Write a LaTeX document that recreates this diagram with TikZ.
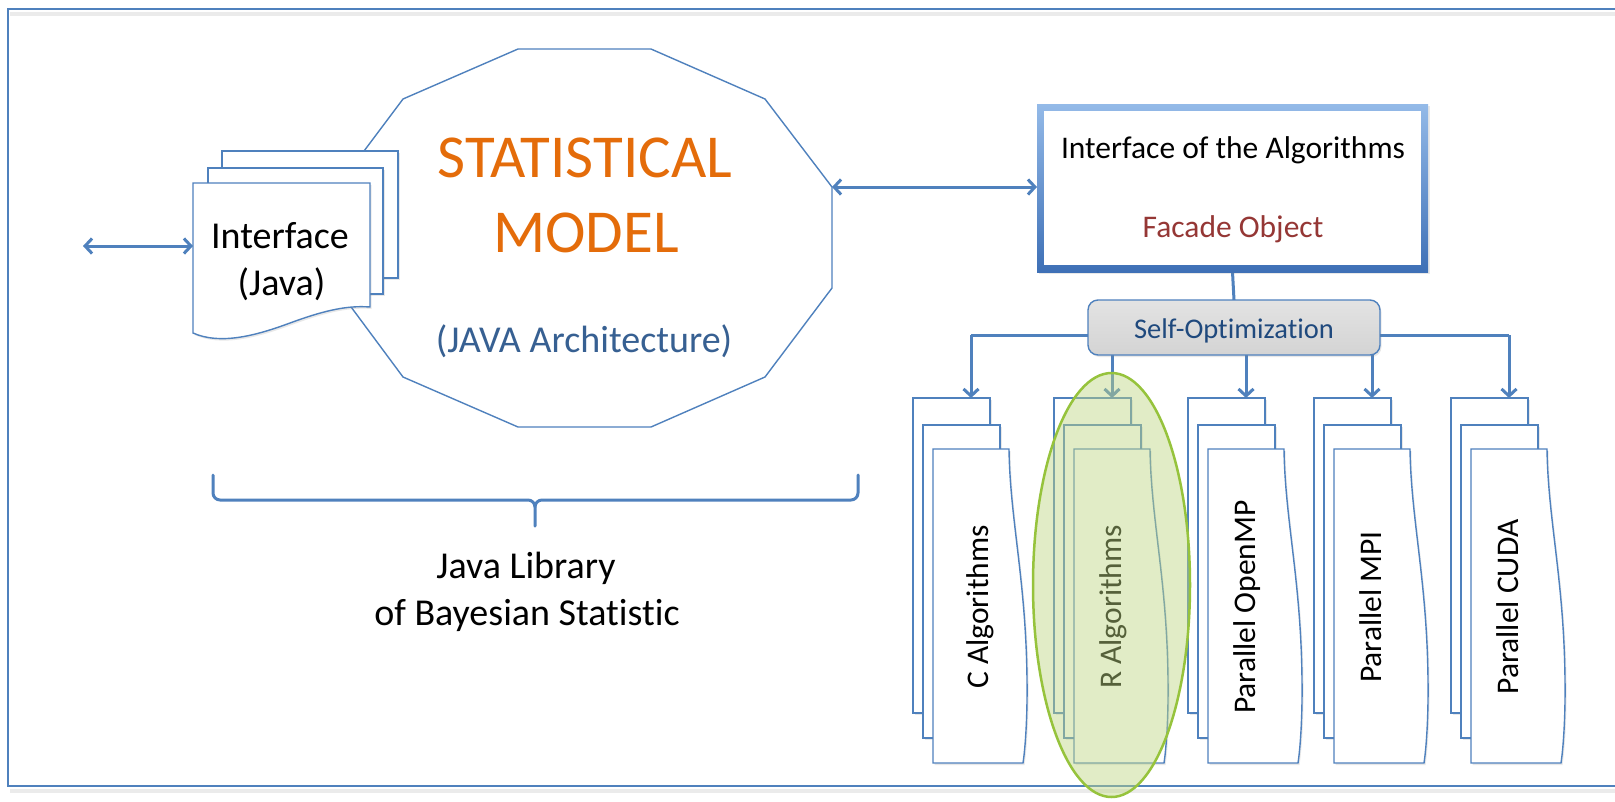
\documentclass[tikz,border=0pt]{standalone}
\usepackage{fontspec}
\setmainfont{Carlito}[Ligatures=NoCommon]
\usetikzlibrary{arrows.meta,shapes.geometric,shadows}
\definecolor{lblue}{RGB}{79,129,189}
\definecolor{orng}{RGB}{228,108,10}
\definecolor{jblue}{RGB}{55,96,146}
\definecolor{fred}{RGB}{149,55,53}
\definecolor{sblue}{RGB}{31,73,125}
\definecolor{gfill}{RGB}{190,215,130}
\definecolor{gline}{RGB}{150,195,60}
\definecolor{bxtop}{RGB}{148,186,232}
\definecolor{bxbot}{RGB}{62,112,182}
\pgfdeclarelayer{bg}
\pgfdeclarelayer{conns}
\pgfsetlayers{bg,conns,main}
\begin{document}
\begin{tikzpicture}[x=1pt,y=-1pt,
  conn/.style={draw=lblue,line width=3pt},
  biarrow/.style={conn,{Straight Barb[length=7pt,width=15pt]}-{Straight Barb[length=7pt,width=15pt]}},
  downarrow/.style={conn,-{Straight Barb[length=7pt,width=15pt]}},
  thinline/.style={draw=lblue,line width=1.4pt},
  shd/.style={drop shadow={shadow xshift=1.5pt,shadow yshift=-2pt,opacity=0.18}},
  doc/.style={thinline,fill=white,shd,inner sep=0pt,outer sep=0pt},
  hidden/.style={inner sep=0pt,outer sep=0pt},
  big/.style={font=\fontsize{61}{73}\selectfont,text=orng,anchor=base},
  mid/.style={font=\fontsize{38}{46}\selectfont,anchor=base},
  lbl/.style={font=\fontsize{31.5}{38}\selectfont,anchor=base},
  stk/.style={font=\fontsize{31.5}{38}\selectfont,anchor=base,rotate=90}
]
\useasboundingbox (0,0) rectangle (1615,801);
\begin{pgfonlayer}{bg}
\fill[white] (0,0) rectangle (1615,801);
\end{pgfonlayer}

% frame
\draw[black!8,line width=4pt] (10,13.5) -- (1615,13.5);
\draw[black!8,line width=4pt] (10,790.5) -- (1615,790.5);
\draw[lblue,line width=2.5pt] (1616,9) -- (8,9) -- (8,786) -- (1616,786);

% statistical model (12-gon)
\draw[thinline,fill=white] (518,49) -- (651,49) -- (765,99) -- (832,187) -- (832,288)
  -- (765,377) -- (651,427) -- (518,427) -- (403,377) -- (337,288) -- (337,187)
  -- (403,99) -- cycle;
\coordinate (modelE) at (832,187);
\node[big] (st1) at (585,177) {STATISTICAL};
\node[big] (st2) at (586,252) {MODEL};
\node[mid,text=jblue] (arch) at (584,352) {(JAVA Architecture)};

% interface document stack
\draw[doc] (222,151) rectangle (398,278);
\draw[doc] (208,168) rectangle (383,294);
\draw[doc] (193,183) -- (370,183) -- (370,307) .. controls (345,305) and (320,312) .. (290,323)
  .. controls (255,336) and (220,345) .. (193,333) -- cycle;
\node[hidden,minimum width=177pt,minimum height=126pt] (iface) at (281.5,246) {};
\node[mid] (if1) at (280,248) {Interface};
\node[mid] (if2) at (281.5,295) {(Java)};
\coordinate (ext) at (83,246);

% brace and caption
\draw[lblue,line width=3pt,line cap=round,line join=round]
  (213,475) -- (213,493) to[out=-90,in=180] (220,500) -- (528,500)
  to[out=0,in=90] (535,507) -- (535,526);
\draw[lblue,line width=3pt,line cap=round,line join=round]
  (535,507) to[out=90,in=180] (542,500) -- (851,500) to[out=0,in=-90] (858,493) -- (858,475);
\node[mid] (jl1) at (526,578) {Java Library};
\node[mid] (jl2) at (527,625) {of Bayesian Statistic};

% interface of the algorithms box
\shade[top color=bxtop,bottom color=bxbot,shd] (1037,104) rectangle (1428,272);
\fill[white] (1044,111) rectangle (1421,265);
\node[hidden,minimum width=391pt,minimum height=168pt] (alg) at (1232.5,188) {};
\node[lbl] (alg1) at (1233,158) {Interface of the Algorithms};
\node[lbl,text=fred] (alg2) at (1233,237) {Facade Object};

% self optimization
\node[hidden,draw=lblue,line width=1.4pt,rounded corners=10pt,top color=black!11,bottom color=black!17,
  minimum width=292pt,minimum height=55pt,shd] (selfopt) at (1234,327.5) {};
\node[font=\fontsize{28.5}{34}\selectfont,text=sblue,anchor=base] (sotext) at (1234,338) {Self-Optimization};

% algorithm stacks
\foreach \L/\n/\t/\dx in {913/c/C Algorithms/8,1054/r/R Algorithms/0,1188/omp/Parallel OpenMP/0,1314/mpi/Parallel MPI/0,1451/cuda/Parallel CUDA/0}{
  \node[doc,minimum width=77pt,minimum height=315pt] (\n-b) at (\L+38.5,555.5) {};
  \node[doc,minimum width=77pt,minimum height=313pt] (\n-m) at (\L+48.5,581.5) {};
  \draw[doc] (\L+20,449) -- (\L+96,449) .. controls (\L+97,520) and (\L+113,580) .. (\L+114,680)
    .. controls (\L+114.5,720) and (\L+112,750) .. (\L+110,763) -- (\L+20,763) -- cycle;
  \node[hidden,minimum width=76pt,minimum height=314pt] (\n-f) at (\L+58,606) {};
  \node[stk] (\n-t) at (\L+67+\dx,607) {\t};
}

% connectors
\coordinate (hub) at (0,335);
\begin{pgfonlayer}{conns}
\draw[biarrow] (ext) -- (iface.west);
\draw[biarrow] (modelE) -- (alg.west |- modelE);
\draw[conn] (alg.south) -- (selfopt.north);
\draw[conn] (c-f.center |- hub) -- (cuda-f.center |- hub);
\foreach \n in {c,r,omp,mpi,cuda}{
  \draw[downarrow] (\n-f.center |- hub) -- (\n-f.center |- \n-b.north);
}
\end{pgfonlayer}

% highlight of R algorithms
\node[ellipse,draw=gline,line width=2.5pt,fill=gfill,fill opacity=0.45,
  minimum width=157pt,minimum height=424pt,inner sep=0pt] (hilite) at (1111.5,585) {};
\end{tikzpicture}
\end{document}
